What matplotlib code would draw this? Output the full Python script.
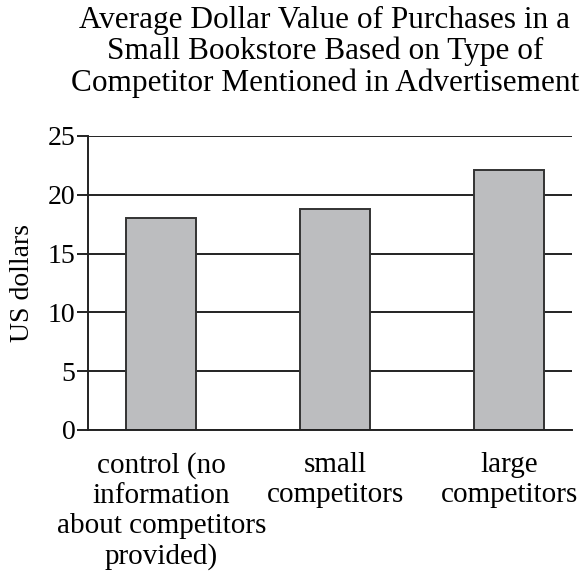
import matplotlib.pyplot as plt
import numpy as np

plt.rcParams['font.family'] = ['Liberation Serif', 'DejaVu Serif']

# chart data
categories = ['control (no\ninformation\nabout competitors\nprovided)',
              'small\ncompetitors',
              'large\ncompetitors']
values = [18.0, 18.75, 22.1]
y_ticks = [0, 5, 10, 15, 20, 25]

fig = plt.figure(figsize=(5.8, 5.71), dpi=100)
ax = fig.add_axes([0.152, 0.247, 0.834, 0.515])

x_pos = np.arange(len(categories))

# horizontal grid lines behind bars
ax.set_axisbelow(True)
ax.grid(True, axis='y', color='#222222', linewidth=1.4)

ax.bar(x_pos, values, width=0.40, color='#bcbdbf', edgecolor='#333333', linewidth=1.4, zorder=2)

ax.set_xlim(-0.42, 2.36)
ax.set_ylim(0, 25)
ax.set_yticks(y_ticks)
ax.set_xticks(x_pos)
ax.set_xticklabels(categories, fontsize=21, linespacing=1.19)
ax.tick_params(axis='x', length=0, pad=16)
ax.tick_params(axis='y', length=8, width=1.4, color='#222222', labelsize=20, pad=1)

for side in ['top', 'right']:
    ax.spines[side].set_visible(False)
for side in ['left', 'bottom']:
    ax.spines[side].set_color('#222222')
    ax.spines[side].set_linewidth(1.4)

ax.set_ylabel('US dollars', fontsize=20, labelpad=9)

fig.text(0.56, 0.99, 'Average Dollar Value of Purchases in a\nSmall Bookstore Based on Type of\nCompetitor Mentioned in Advertisement',
         ha='center', va='top', fontsize=22.5, linespacing=1.1)

fig.savefig('out.png', dpi=100)
